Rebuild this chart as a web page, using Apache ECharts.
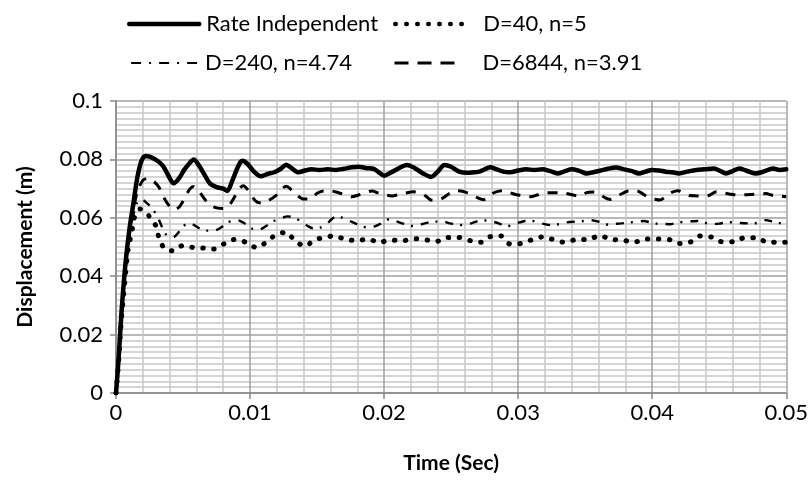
<!DOCTYPE html>
<html><head><meta charset="utf-8">
<script src="https://cdn.jsdelivr.net/npm/echarts@6/dist/echarts.min.js"></script>
<style>html,body{margin:0;padding:0;background:#fff}#c{width:811px;height:483px}</style>
</head><body><div id="c"></div>
<script>
var seriesNames = ['Rate Independent', 'D=40, n=5', 'D=240, n=4.74', 'D=6844, n=3.91'];
var xTickLabels = ['0', '0.01', '0.02', '0.03', '0.04', '0.05'];
var yTickLabels = ['0', '0.02', '0.04', '0.06', '0.08', '0.1'];

var rateIndependent = [[0,0],[0.0002,0.012],[0.0004,0.027],[0.0007,0.044],[0.001,0.056],[0.0013,0.065],[0.0016,0.074],[0.0019,0.0795],[0.0022,0.0812],[0.0026,0.0808],[0.003,0.0798],[0.0035,0.0778],[0.0039,0.0745],[0.0043,0.0718],[0.0047,0.0735],[0.0051,0.0765],[0.0055,0.0788],[0.0058,0.08],[0.0062,0.0778],[0.0066,0.0748],[0.007,0.0718],[0.0075,0.0705],[0.008,0.07],[0.0083,0.0692],[0.0087,0.073],[0.0091,0.0775],[0.0094,0.0795],[0.0098,0.0785],[0.0103,0.0758],[0.0108,0.0742],[0.0113,0.075],[0.0118,0.0756],[0.0123,0.0768],[0.0127,0.0782],[0.0131,0.077],[0.0136,0.0756],[0.0141,0.0762],[0.0146,0.0766],[0.0152,0.0764],[0.0158,0.0766],[0.0164,0.0764],[0.017,0.0768],[0.0176,0.0773],[0.0181,0.0775],[0.0187,0.077],[0.0192,0.0768],[0.0196,0.0756],[0.02,0.0744],[0.0205,0.0755],[0.0211,0.077],[0.0217,0.0781],[0.0223,0.077],[0.0229,0.0752],[0.0235,0.074],[0.024,0.0758],[0.0245,0.0781],[0.025,0.0775],[0.0256,0.0758],[0.0262,0.0754],[0.0267,0.0756],[0.0271,0.0758],[0.0275,0.0766],[0.0279,0.0773],[0.0284,0.0766],[0.0289,0.0758],[0.0294,0.0756],[0.03,0.0762],[0.0306,0.0766],[0.0312,0.0764],[0.0318,0.0766],[0.0324,0.076],[0.033,0.0752],[0.0335,0.076],[0.034,0.0766],[0.0346,0.076],[0.0351,0.0752],[0.0356,0.0756],[0.0361,0.0761],[0.0367,0.0768],[0.0373,0.0772],[0.0379,0.0766],[0.0385,0.076],[0.039,0.0752],[0.0395,0.0758],[0.04,0.0764],[0.0405,0.0762],[0.041,0.0758],[0.0415,0.0756],[0.042,0.0752],[0.0426,0.0758],[0.0433,0.0764],[0.0439,0.0766],[0.0446,0.0769],[0.0451,0.076],[0.0455,0.0752],[0.046,0.076],[0.0465,0.0769],[0.047,0.0762],[0.0477,0.0752],[0.0483,0.0758],[0.049,0.0769],[0.0495,0.0764],[0.05,0.0766]];

var d40 = [[0,0],[0.0002,0.011],[0.0004,0.025],[0.0007,0.04],[0.0009,0.049],[0.0012,0.0558],[0.0013,0.0587],[0.0014,0.0604],[0.0018,0.063],[0.0022,0.0618],[0.0025,0.0604],[0.003,0.057],[0.0032,0.0533],[0.0036,0.0496],[0.0042,0.0487],[0.005,0.0505],[0.0058,0.0498],[0.0066,0.0496],[0.0073,0.0493],[0.0081,0.0512],[0.0089,0.0526],[0.0097,0.0516],[0.0105,0.0498],[0.0112,0.0516],[0.0119,0.0541],[0.0127,0.055],[0.0133,0.0524],[0.0141,0.0503],[0.0148,0.0524],[0.0155,0.0532],[0.0163,0.0538],[0.0171,0.0526],[0.018,0.0522],[0.0188,0.0527],[0.0196,0.0516],[0.0205,0.0524],[0.0213,0.0521],[0.0222,0.0528],[0.023,0.0526],[0.0238,0.0518],[0.0247,0.0532],[0.0255,0.0533],[0.0264,0.0522],[0.0272,0.0516],[0.0279,0.0535],[0.0287,0.0538],[0.0294,0.051],[0.0302,0.0512],[0.0311,0.0526],[0.0319,0.0535],[0.0327,0.0524],[0.0335,0.0516],[0.0344,0.0526],[0.0352,0.0526],[0.0361,0.0539],[0.0369,0.0526],[0.0378,0.0524],[0.0386,0.0516],[0.0395,0.0527],[0.0403,0.0527],[0.0412,0.0526],[0.042,0.0512],[0.0428,0.0516],[0.0436,0.0538],[0.0445,0.0533],[0.0452,0.0518],[0.0461,0.0518],[0.0469,0.0532],[0.0478,0.0532],[0.0486,0.0516],[0.0495,0.0516],[0.05,0.0516]];

var d240 = [[0,0],[0.0002,0.012],[0.0004,0.026],[0.0007,0.042],[0.001,0.053],[0.0013,0.061],[0.0016,0.0655],[0.0019,0.0663],[0.0023,0.065],[0.0027,0.0632],[0.0031,0.0603],[0.0034,0.0572],[0.0037,0.0545],[0.004,0.0533],[0.0044,0.0537],[0.0048,0.0558],[0.0052,0.0578],[0.0055,0.0582],[0.0059,0.0573],[0.0063,0.0562],[0.0068,0.0556],[0.0073,0.0556],[0.0078,0.0566],[0.0083,0.0583],[0.0088,0.0592],[0.0092,0.059],[0.0097,0.0578],[0.0102,0.0562],[0.0107,0.056],[0.0112,0.0572],[0.0117,0.0588],[0.0122,0.0596],[0.0128,0.0605],[0.0133,0.06],[0.0138,0.0588],[0.0143,0.0572],[0.0147,0.0564],[0.0152,0.0566],[0.0157,0.0578],[0.0161,0.0596],[0.0165,0.0606],[0.0169,0.06],[0.0174,0.059],[0.0178,0.0582],[0.0184,0.057],[0.0189,0.0566],[0.0194,0.0572],[0.0199,0.0584],[0.0204,0.0595],[0.0209,0.0588],[0.0215,0.0579],[0.0222,0.0572],[0.0228,0.0578],[0.0234,0.0585],[0.0239,0.0587],[0.0244,0.0587],[0.0249,0.0581],[0.0255,0.0577],[0.0259,0.0575],[0.0265,0.0581],[0.0271,0.059],[0.0276,0.0591],[0.0281,0.0587],[0.0286,0.058],[0.0291,0.057],[0.0296,0.0576],[0.0301,0.0584],[0.0305,0.0589],[0.031,0.059],[0.0315,0.0583],[0.032,0.0578],[0.0325,0.0575],[0.033,0.0578],[0.0336,0.0584],[0.0343,0.0587],[0.0349,0.0589],[0.0354,0.0592],[0.0359,0.0588],[0.0364,0.058],[0.0368,0.0576],[0.0372,0.0579],[0.0377,0.0581],[0.0383,0.0584],[0.0389,0.0587],[0.0394,0.0589],[0.0398,0.0585],[0.0403,0.058],[0.0408,0.0579],[0.0413,0.0578],[0.0418,0.0582],[0.0424,0.0587],[0.0429,0.0588],[0.0434,0.0589],[0.0439,0.0583],[0.0445,0.0579],[0.045,0.058],[0.0456,0.0585],[0.0461,0.0585],[0.0466,0.0582],[0.0471,0.0581],[0.0476,0.0581],[0.0481,0.0586],[0.0485,0.0592],[0.0489,0.0588],[0.0494,0.0583],[0.05,0.0576]];

var d6844 = [[0,0],[0.0002,0.012],[0.0004,0.026],[0.0007,0.043],[0.001,0.055],[0.0013,0.063],[0.0016,0.069],[0.002,0.0728],[0.0024,0.0735],[0.0028,0.0725],[0.0032,0.0705],[0.0035,0.0675],[0.0039,0.0645],[0.0043,0.0628],[0.0047,0.0636],[0.0051,0.0665],[0.0055,0.0698],[0.0058,0.0707],[0.0062,0.069],[0.0066,0.0665],[0.007,0.0644],[0.0075,0.0634],[0.008,0.0632],[0.0084,0.064],[0.0088,0.0668],[0.0092,0.07],[0.0095,0.071],[0.0099,0.0692],[0.0104,0.0658],[0.0109,0.065],[0.0114,0.066],[0.0119,0.0675],[0.0124,0.07],[0.0127,0.0708],[0.0131,0.0695],[0.0135,0.0678],[0.014,0.0664],[0.0145,0.0664],[0.015,0.0684],[0.0155,0.0692],[0.016,0.0692],[0.0166,0.0686],[0.0171,0.0678],[0.0176,0.0672],[0.0181,0.0678],[0.0186,0.0686],[0.0191,0.0692],[0.0196,0.0684],[0.0201,0.0678],[0.0206,0.0675],[0.0211,0.068],[0.0216,0.0685],[0.0222,0.0689],[0.0227,0.0685],[0.0231,0.0675],[0.0235,0.0661],[0.0239,0.066],[0.0244,0.0668],[0.0249,0.0684],[0.0254,0.0693],[0.0259,0.069],[0.0265,0.068],[0.027,0.0668],[0.0274,0.0662],[0.0279,0.0678],[0.0283,0.0688],[0.0288,0.0693],[0.0294,0.0686],[0.0298,0.068],[0.0303,0.0676],[0.0309,0.0672],[0.0314,0.0678],[0.0319,0.0686],[0.0325,0.0686],[0.033,0.0686],[0.0335,0.0684],[0.0341,0.0678],[0.0346,0.0674],[0.0351,0.0686],[0.0356,0.0688],[0.036,0.0684],[0.0365,0.0668],[0.0369,0.0663],[0.0373,0.0672],[0.0378,0.0684],[0.0382,0.0692],[0.0388,0.0693],[0.0393,0.0682],[0.0397,0.067],[0.0402,0.0664],[0.0406,0.0661],[0.0411,0.0678],[0.0415,0.0688],[0.0419,0.0693],[0.0424,0.0684],[0.0428,0.0676],[0.0434,0.0675],[0.0438,0.0672],[0.0442,0.0676],[0.0448,0.0689],[0.0452,0.0686],[0.0458,0.0681],[0.0464,0.0678],[0.0469,0.0679],[0.0474,0.068],[0.048,0.0682],[0.0485,0.0683],[0.0489,0.0678],[0.0494,0.0675],[0.05,0.0672]];

var FONT = 'Lato';
var chart = echarts.init(document.getElementById('c'), null, {renderer: 'canvas'});

function legendFor(name, left, top, lineStyle, textPad) {
  return {
    left: left, top: top, orient: 'horizontal', padding: 0,
    itemWidth: 70, itemHeight: 14, itemGap: 0,
    data: [name],
    selectedMode: false,
    itemStyle: {opacity: 0},
    lineStyle: lineStyle,
    textStyle: {fontFamily: FONT, fontSize: 22, color: '#000', padding: [0, 0, 0, textPad]}
  };
}

var option = {
  backgroundColor: '#fff',
  animation: false,
  textStyle: {fontFamily: FONT},
  legend: [
    legendFor(seriesNames[0], 127, 13, {color: '#000', width: 4.5, type: 'solid', cap: 'round'}, 2),
    legendFor(seriesNames[1], 390, 13, {color: '#000', width: 4.5, type: [0.5, 10.5], cap: 'round', dashOffset: -3}, 16),
    legendFor(seriesNames[2], 127, 52, {color: '#000', width: 2.2, type: [10, 8, 2, 8], cap: 'butt'}, 2),
    legendFor(seriesNames[3], 390, 52, {color: '#000', width: 3, type: [14, 9], cap: 'butt'}, 16)
  ],
  grid: {left: 116, right: 24, top: 101, bottom: 90, containLabel: false},
  xAxis: {
    type: 'value', min: 0, max: 0.05, interval: 0.01,
    name: 'Time (Sec)', nameLocation: 'middle', nameGap: 60,
    nameTextStyle: {fontFamily: FONT, fontSize: 21, fontWeight: 'bold', color: '#000'},
    axisLine: {show: true, onZero: false, lineStyle: {color: '#868686', width: 1.5}},
    axisTick: {show: true, inside: false, length: 6, lineStyle: {color: '#868686', width: 1.5}},
    axisLabel: {margin: 9, fontFamily: FONT, fontSize: 22, color: '#000',
      formatter: function (v) { return xTickLabels[Math.round(v / 0.01)]; }},
    splitLine: {show: true, lineStyle: {color: '#a0a0a0', width: 1.5}},
    minorTick: {show: false, splitNumber: 5},
    minorSplitLine: {show: true, lineStyle: {color: '#c8c8c8', width: 1.5}}
  },
  yAxis: {
    type: 'value', min: 0, max: 0.1, interval: 0.02,
    name: 'Displacement (m)', nameLocation: 'middle', nameGap: 80, nameRotate: 90,
    nameTextStyle: {fontFamily: FONT, fontSize: 21, fontWeight: 'bold', color: '#000'},
    axisLine: {show: true, onZero: false, lineStyle: {color: '#868686', width: 1.5}},
    axisTick: {show: true, inside: false, length: 6, lineStyle: {color: '#868686', width: 1.5}},
    axisLabel: {margin: 13, fontFamily: FONT, fontSize: 22, color: '#000',
      formatter: function (v) { return yTickLabels[Math.round(v / 0.02)]; }},
    splitLine: {show: true, lineStyle: {color: '#a0a0a0', width: 1.5}},
    minorTick: {show: false, splitNumber: 10},
    minorSplitLine: {show: true, lineStyle: {color: '#c8c8c8', width: 1.5}}
  },
  series: [
    {name: seriesNames[0], type: 'line', data: rateIndependent, showSymbol: false, symbol: 'none', smooth: 0.3, z: 5,
      lineStyle: {color: '#000', width: 4.5, cap: 'round', join: 'round'}, itemStyle: {color: '#000'}},
    {name: seriesNames[1], type: 'line', data: d40, showSymbol: false, symbol: 'none', smooth: 0.3, z: 4,
      lineStyle: {color: '#000', width: 5, type: [0.5, 10.5], cap: 'round'}, itemStyle: {color: '#000'}},
    {name: seriesNames[2], type: 'line', data: d240, showSymbol: false, symbol: 'none', smooth: 0.3, z: 3,
      lineStyle: {color: '#000', width: 2.4, type: [8, 7, 2, 8]}, itemStyle: {color: '#000'}},
    {name: seriesNames[3], type: 'line', data: d6844, showSymbol: false, symbol: 'none', smooth: 0.3, z: 3,
      lineStyle: {color: '#000', width: 3, type: [10, 9]}, itemStyle: {color: '#000'}}
  ]
};
chart.setOption(option);
</script>
</body></html>
